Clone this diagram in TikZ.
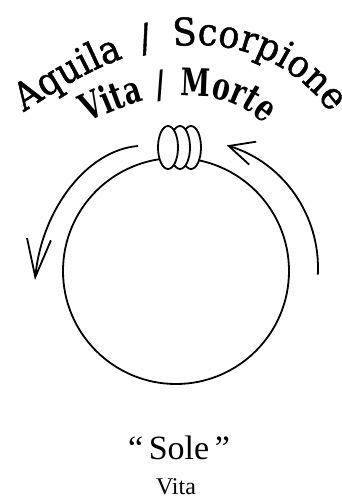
\documentclass[tikz,border=0pt]{standalone}
\usepackage{fontspec}
\setmainfont{Liberation Serif}
\newfontfamily\archfont{DejaVu Serif}[FakeStretch=0.92, FakeBold=1.2]
\newfontfamily\mottofont{DejaVu Serif}[FakeStretch=0.7]
\usetikzlibrary{positioning,arrows.meta,decorations.text,shapes.geometric}

\begin{document}
\begin{tikzpicture}[x=1pt, y=1pt,
      line width=1.8pt,
      ring/.style={ellipse, draw, fill=white, inner sep=0pt,
                   minimum width=20pt, minimum height=43pt},   % one loop of the coil
      orbit/.style={-{Straight Barb[length=#1, width=24pt]}},   % open arrow round the sun
      caption/.style={anchor=base, inner sep=0pt}]
    \useasboundingbox (0,0) rectangle (342,498);
    \node[circle, draw, minimum size=226pt, inner sep=0pt] (sun) at (176,227) {};
    \foreach \n/\x in {3/191, 2/180, 1/168}
      \node[ring] (ring\n) at (\x,350.5) {};                   % right loop first, left one on top
    \draw[orbit=38pt] (138,352) .. controls (88,348) and (42,290) .. (35,218);
    \draw[orbit=25pt] (190,230) ++(-3:128) arc[start angle=-3, end angle=73.3, radius=128];
    \path[decorate, decoration={text along path, text align={fit to path stretching spaces},
          text={|\archfont\fontsize{38}{38}\selectfont|Aquila / Scorpione}}]
      (24,386) .. controls (80,423) and (130,452) .. (195,453)
               .. controls (250,454) and (300,428) .. (330,385);   % outer arch
    \path[decorate, decoration={text along path, text align={fit to path stretching spaces},
          text={|\mottofont\bfseries\fontsize{38}{38}\selectfont|Vita / Morte}}]
      (88,375) .. controls (130,396) and (160,403) .. (195,402)
               .. controls (222,401) and (245,392) .. (264,374);   % inner arch
    \node[caption, font=\fontsize{34}{40}\selectfont] (sole) at (179,38) {“\,Sole\,”};
    \node[caption, font=\fontsize{24}{28}\selectfont] (vita) at (176,4) {Vita};
  \end{tikzpicture}
\end{document}
